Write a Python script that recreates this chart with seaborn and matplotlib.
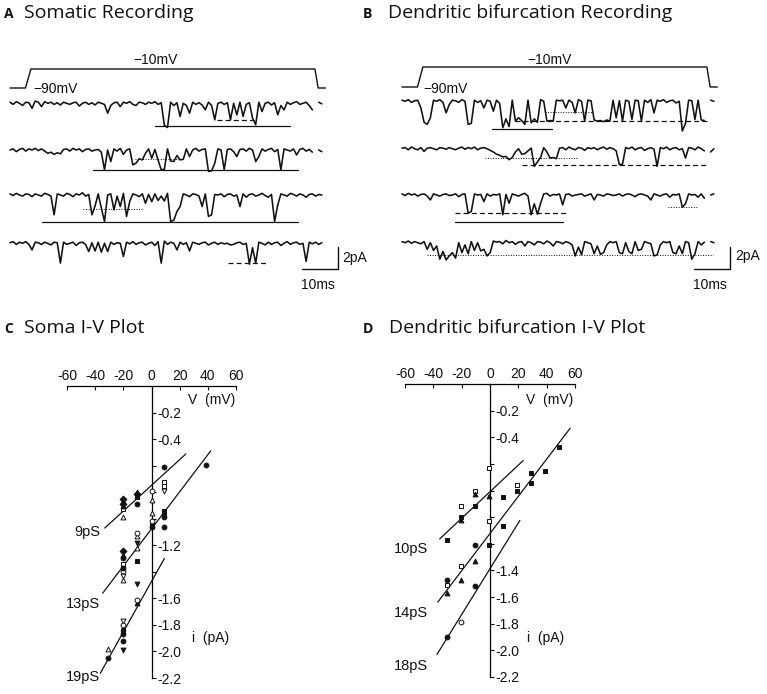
import numpy as np
import pandas as pd
import matplotlib
matplotlib.use("Agg")
import matplotlib.pyplot as plt
import seaborn as sns

W, H = 767, 694
nan = np.nan

# ---------------- single-channel current traces (pA, one sample every 0.875 ms) ----------------
dt_ms = 0.875

soma_trace_1 = [0.1, -0.1, 0.15, 0.0, -0.2, 0.1, 0.05, -0.45, 0.2, 0.1,
                -0.3, 0.15, 0.0, 0.1, -0.1, 0.05, -0.15, 0.1, 0.0, -0.1,
                0.05, 0.1, -0.25, 0.0, 0.1, -0.1, 0.05, -0.15, 0.1, 0.0,
                -0.1, -0.9, -0.2, 0.05, 0.1, -0.3, 0.1, 0.0, 0.15, -0.1,
                -0.2, 0.1, 0.05, -0.1, 0.1, 0.0, 0.15, -0.1, 0.05, -2.0,
                -2.2, 0.1, -0.2, 0.05, -1.2, 0.0, -0.2, -0.9, 0.1, -0.1,
                0.05, -0.15, -0.6, 0.1, -0.2, -1.5, 0.0, 0.1, -0.1, 0.05,
                -1.5, 0.0, -1.05, 0.1, -1.2, -0.1, 0.05, -1.35, -1.95, 0.1,
                -0.75, 0.0, 0.1, -0.15, 0.05, -1.05, -0.2, -0.6, 0.1, -0.1,
                0.05, 0.15, -0.1, 0.0, 0.1, -0.2, -0.6, nan, 0.1, -0.05]
soma_trace_2 = [0.0, 0.1, -0.15, 0.05, 0.15, -0.1, 0.1, 0.0, 0.15, -0.05,
                0.1, -0.1, -0.3, -0.2, -0.4, -0.25, -0.35, 0.05, 0.1, -0.1,
                0.15, 0.0, 0.1, -0.15, 0.05, 0.1, -0.1, 0.0, 0.05, -0.2,
                -1.8, 0.0, -1.05, 0.1, -0.1, 0.15, -0.4, 0.0, 0.1, -1.35,
                -1.2, -0.8, -0.9, -0.3, 0.1, -0.75, 0.05, -0.9, -1.8, -1.75,
                0.1, -1.0, -1.05, -0.5, -0.9, -0.85, 0.1, -0.6, 0.0, 0.15,
                -0.1, 0.05, 0.1, -1.95, -1.9, -1.2, 0.1, 0.0, -1.8, 0.05,
                0.1, -0.15, -0.6, 0.05, 0.1, -0.1, 0.15, 0.0, -1.05, -0.6,
                0.1, -0.1, 0.05, 0.15, -0.15, 0.05, -1.8, 0.1, 0.0, -0.1,
                0.1, -0.45, 0.05, 0.15, -0.1, 0.05, -0.2, nan, 0.0, -0.15]
soma_trace_3 = [0.1, -0.05, 0.15, 0.0, -0.1, 0.1, 0.05, -0.15, 0.1, 0.0,
                -0.1, 0.15, 0.05, -0.1, -1.8, 0.1, 0.0, -0.1, 0.15, 0.05,
                -0.15, 0.1, 0.0, 0.2, -0.1, 0.05, -1.8, -1.0, 0.1, -1.2,
                -2.4, 0.0, 0.1, -1.35, -0.1, -1.05, 0.15, -1.95, -0.6, 0.1,
                0.0, -0.15, 0.1, -0.75, 0.05, -0.6, 0.1, -0.5, -0.1, -0.55,
                0.15, -2.4, -2.3, -1.5, -1.05, 0.1, 0.0, -0.15, 0.1, 0.05,
                -0.1, -1.05, 0.1, -1.95, -1.8, 0.05, 0.0, 0.1, -0.15, 0.05,
                0.1, -0.1, 0.0, -1.05, 0.1, -0.2, 0.05, 0.1, -0.1, 0.0,
                0.15, -0.05, -0.2, 0.05, -2.4, -0.9, 0.1, 0.0, -0.1, 0.15,
                0.05, -0.1, 0.1, 0.0, -0.2, 0.05, 0.1, -0.1, 0.05, 0.0]
soma_trace_4 = [0.05, 0.15, -0.1, 0.1, 0.0, 0.15, -0.1, -0.6, 0.1, 0.05,
                -0.1, 0.1, 0.0, -0.15, 0.1, 0.05, -1.8, 0.1, -0.1, 0.0,
                0.1, -0.2, 0.05, 0.1, -0.1, -0.75, 0.05, -0.7, 0.1, -0.8,
                0.0, -0.75, 0.1, -0.1, 0.05, 0.0, -1.2, 0.1, -0.05, 0.15,
                -0.1, 0.05, 0.1, -0.15, 0.0, 0.1, -0.2, 0.15, -1.8, 0.2,
                -0.1, 0.1, 0.0, -0.6, 0.1, -0.1, 0.05, -0.7, 0.1, 0.0,
                -0.1, 0.05, 0.1, -0.15, 0.0, 0.1, -0.1, 0.05, -0.05, 0.0,
                -0.15, -0.1, 0.05, 0.1, -0.1, 0.0, -1.9, -0.4, -1.8, 0.1,
                0.0, -0.15, 0.1, -0.1, 0.05, 0.1, -0.2, 0.0, 0.15, -0.1,
                0.05, 0.1, -0.1, 0.0, -1.65, 0.1, -0.05, 0.1, -0.1, 0.05]

dend_trace_1 = [0.1, 0.0, 0.15, -0.1, 0.05, 0.1, -0.6, -1.9, -2.1, -1.5,
                0.1, 0.0, 0.15, -0.1, -1.05, -0.3, 0.1, 0.05, -0.1, 0.15,
                0.0, -2.1, -2.0, 0.1, -0.1, 0.05, -0.6, 0.1, 0.0, -0.9,
                0.1, -0.2, -2.4, -1.6, -2.3, 0.1, -1.8, -1.5, -1.75, -2.1,
                0.1, -1.95, -1.6, -1.9, 0.15, 0.0, -1.8, -1.75, -1.8, 0.1,
                0.05, 0.1, -0.6, 0.1, -0.1, -1.05, 0.15, 0.0, -1.8, 0.1,
                0.05, -1.7, -1.8, -1.75, -1.85, -1.7, -1.8, 0.1, -1.5, 0.05,
                -1.8, 0.1, 0.0, -1.65, 0.1, 0.05, -1.8, 0.1, -0.1, 0.15,
                -1.05, 0.1, 0.0, 0.15, -0.1, 0.05, 0.1, -0.15, 0.0, -2.7,
                -2.0, 0.1, 0.05, -1.65, 0.1, -1.7, -1.75, nan, 0.1, 0.0]
dend_trace_2 = [0.05, 0.1, -0.1, 0.15, 0.0, -0.1, 0.1, -0.25, 0.05, 0.1,
                0.0, -0.1, 0.1, 0.05, -0.05, 0.1, 0.0, -0.1, 0.05, 0.15,
                -0.05, 0.1, 0.0, 0.15, -0.1, 0.05, 0.1, 0.0, -0.15, -0.3,
                -0.5, -0.6, -0.75, -0.7, -1.0, -0.8, -0.3, 0.0, -0.5, -0.45,
                -0.2, 0.05, -1.6, -1.2, -0.8, 0.1, -0.3, -0.85, -0.8, -0.9,
                0.05, 0.1, -0.1, 0.15, 0.0, -0.1, 0.1, 0.05, -0.15, 0.1,
                0.0, 0.1, -0.1, 0.05, 0.15, -0.05, 0.1, 0.0, -0.2, -1.45,
                -1.4, 0.1, 0.0, 0.15, -0.1, 0.05, 0.1, -0.15, 0.0, 0.1,
                -0.05, -1.6, 0.1, 0.0, 0.15, -0.1, 0.05, 0.1, -0.1, 0.0,
                -0.85, 0.1, 0.05, -0.1, 0.15, 0.0, -0.2, nan, -0.3, 0.0]
dend_trace_3 = [0.1, -0.05, 0.15, 0.0, 0.1, -0.1, 0.05, 0.1, -0.1, -0.45,
                0.1, 0.0, -0.1, 0.05, 0.1, -0.05, 0.0, 0.1, -0.15, 0.05,
                0.1, -1.65, -1.5, 0.1, 0.0, 0.05, -0.6, 0.1, -0.1, 0.05,
                0.0, 0.1, -1.8, 0.05, -0.75, 0.1, 0.0, -0.1, 0.05, 0.15,
                -0.1, -1.8, -0.8, -1.75, -0.75, 0.1, 0.15, -0.1, 0.05, 0.0,
                0.1, -0.9, 0.05, 0.1, -0.1, 0.0, 0.05, 0.1, -0.1, 0.0,
                0.1, -0.45, 0.05, 0.0, -0.1, 0.1, 0.05, -0.05, 0.0, 0.1,
                -0.1, 0.05, 0.1, 0.0, -0.15, 0.05, 0.1, 0.0, -0.1, -0.45,
                0.1, 0.0, -0.1, 0.05, 0.1, -0.2, 0.05, 0.0, 0.1, -1.1,
                -0.8, 0.1, 0.0, 0.05, -0.2, 0.1, -0.3, nan, 0.0, 0.1]
dend_trace_4 = [0.1, 0.0, 0.15, -0.05, 0.1, 0.0, -0.1, 0.1, -0.6, 0.0,
                -0.7, -0.3, -1.5, -0.8, -1.56, -1.2, -0.9, -1.4, 0.0, -0.9,
                -0.2, -1.0, 0.1, -0.7, 0.0, -0.75, -0.6, -1.2, -0.9, 0.15,
                0.05, 0.1, -0.1, 0.2, 0.0, 0.1, -0.15, 0.05, 0.1, -0.3,
                0.1, 0.0, -0.2, 0.1, 0.05, -0.1, 0.15, 0.0, -0.3, 0.1,
                0.05, -0.1, 0.1, 0.0, -0.2, -1.2, -0.4, -1.1, 0.1, 0.0,
                -0.1, -1.0, -0.3, -1.05, -0.9, -0.2, 0.1, 0.0, 0.1, -0.9,
                -1.0, 0.0, -0.8, -1.0, 0.1, -0.7, -0.6, 0.1, 0.0, -0.1,
                -1.2, -1.1, -0.2, 0.1, 0.0, 0.1, -0.9, -1.0, -0.3, -1.0,
                0.1, 0.0, -1.5, -1.0, 0.1, -0.2, 0.05, nan, 0.1, 0.0]

# command step (ms, mV)
step_t = [0.0, 4.3, 5.8, 84.7, 85.6, 87.6]
step_v = [-90, -90, -10, -10, -90, -90]

# current levels drawn under the traces: (trace row, start ms, end ms, level pA)
soma_solid_levels = [(0, 40.3, 77.8, -2.05), (1, 23.0, 80.0, -1.82), (2, 8.9, 80.0, -2.42)]
soma_dashed_levels = [(0, 57.5, 68.0, -1.52), (3, 60.6, 71.7, -1.82)]
soma_dotted_levels = [(1, 34.7, 47.8, -0.82), (2, 20.3, 36.7, -1.27)]
dend_solid_levels = [(0, 25.0, 41.7, -2.49), (2, 14.7, 44.7, -2.42)]
dend_dashed_levels = [(0, 31.4, 85.0, -1.76), (1, 33.3, 84.7, -1.45), (2, 14.7, 45.8, -1.67)]
dend_dotted_levels = [(0, 39.7, 52.8, -0.97), (1, 23.0, 48.6, -0.85),
                      (2, 73.9, 82.2, -1.12), (3, 6.9, 86.4, -1.12)]

# ---------------- I-V data (mV, pA) ----------------
soma_v = [-20.5, -20.5, -20.5, -20.5, -20.5, -20.5, -20.5, -20.5, -20.5, -20.5, -20.5,
          -20.5, -20.5, -20.5, -20.5, -20.5, -20.5, -20.5, -20.5, -20.5, -20.5,
          -31, -31,
          -10.5, -10.5, -10.5, -10.5, -10.5, -10.5, -10.5, -10.5, -10.5, -10.5, -10.5, -10.5, -10.5,
          0, 0, 0, 0, 0, 0,
          9, 9, 9, 9, 9, 9, 9, 9,
          39]
soma_i = [-0.85, -0.87, -0.89, -0.905, -0.925, -0.985, -1.245, -1.27, -1.295, -1.34, -1.37,
          -1.395, -1.43, -1.46, -1.77, -1.80, -1.82, -1.847, -1.87, -1.92, -1.99,
          -1.98, -2.05,
          -0.795, -0.81, -0.825, -0.84, -0.89, -1.105, -1.13, -1.185, -1.22, -1.32, -1.495, -1.61, -1.635,
          -0.79, -0.86, -0.955, -1.02, -1.05, -1.065,
          -0.61, -0.725, -0.755, -0.79, -0.945, -0.97, -0.985, -1.065,
          -0.595]
soma_symbol = ["◆", "▲", "◆", "▲", "□", "△", "◆", "▲", "●", "□", "●",
               "○", "▽", "△", "▽", "○", "▲", "■", "●", "●", "▼",
               "△", "●",
               "▲", "◆", "▲", "□", "●", "○", "△", "▼", "△", "■", "▼", "○", "▲",
               "○", "△", "△", "○", "■", "●",
               "●", "□", "□", "▽", "■", "■", "●", "●",
               "●"]

dend_v = [-1, -10.5, -10.5, -20.5, -20.5, -20.5, -10.5, -1, 9, 19, 19, 29, 29, 39, 49,
          -30.5, -1, 9, -10.5, -1, -20.5, -10.5, -30.5, -30.5, -20.5, -30.5, -10.5,
          -20.5, -30.5]
dend_i = [-0.633, -0.807, -0.827, -0.919, -0.999, -1.024, -0.919, -0.844, -0.849, -0.762,
          -0.802, -0.671, -0.746, -0.656, -0.476,
          -1.169, -1.031, -1.064, -1.208, -1.206, -1.369, -1.331, -1.473, -1.51, -1.468,
          -1.568, -1.518, -1.788, -1.898]
dend_symbol = ["□", "□", "▲", "□", "■", "▲", "■", "▲", "■", "□", "■", "■", "■", "■", "■",
               "■", "□", "■", "●", "■", "□", "▲", "●", "□", "▲", "▲", "●", "○", "●"]

# fitted conductance lines (end points)
soma_fit_labels = ["9pS", "13pS", "19pS"]
soma_fit_v = [[-33.2, 24.4], [-34.6, 42.1], [-36.4, 9.2]]
soma_fit_i = [[-1.07, -0.512], [-1.56, -0.488], [-2.165, -1.298]]
dend_fit_labels = ["10pS", "14pS", "18pS"]
dend_fit_v = [[-35.5, 23.4], [-36.9, 56.6], [-37.4, 21.1]]
dend_fit_i = [[-1.163, -0.575], [-1.638, -0.332], [-2.03, -1.024]]

v_ticks = [-60, -40, -20, 0, 20, 40, 60]
i_ticks = [-0.2, -0.4, -0.6, -0.8, -1.0, -1.2, -1.4, -1.6, -1.8, -2.0, -2.2]
soma_i_labelled = [-0.2, -0.4, -1.2, -1.6, -1.8, -2.0, -2.2]
dend_i_labelled = [-0.2, -0.4, -1.4, -1.6, -1.8, -2.0, -2.2]

# ---------------- style ----------------
sns.set_theme(style="white")
plt.rcParams["font.family"] = ["Liberation Sans", "DejaVu Sans"]
plt.rcParams["axes.edgecolor"] = "black"
plt.rcParams["axes.linewidth"] = 0.9
INK = "#111111"

MARKERS = {"●": ("o", True), "○": ("o", False), "▲": ("^", True), "△": ("^", False),
           "▼": ("v", True), "▽": ("v", False), "■": ("s", True), "□": ("s", False),
           "◆": ("D", True)}

fig = plt.figure(figsize=(W / 100, H / 100), dpi=100)


def px_axes(x0, y0, x1, y1):
    """axes from pixel box (top-left origin)"""
    ax = fig.add_axes([x0 / W, 1 - y1 / H, (x1 - x0) / W, (y1 - y0) / H])
    ax.patch.set_alpha(0)
    return ax


def ftext(x, y, s, **kw):
    kw.setdefault("color", INK)
    fig.text(x / W, 1 - y / H, s, **kw)


def title(x_letter, x_text, y, letter, text):
    ftext(x_letter, y, letter, fontsize=10, fontweight="bold", family="Open Sans", va="baseline")
    ftext(x_text, y, text, fontsize=14, family="Open Sans", va="baseline")


# trace geometry: 3.6 px per ms, 11 px per pA
PX_MS, PX_PA = 3.6, 11.0


def trace_panel(box, t0_px, base_px, row_px, traces, solid, dashed, dotted, step_px):
    x0, y0, x1, y1 = box
    ax = px_axes(*box)
    ax.set_xlim((x0 - t0_px) / PX_MS, (x1 - t0_px) / PX_MS)
    ax.set_ylim(-(y1 - base_px) / PX_PA, -(y0 - base_px) / PX_PA)
    ax.axis("off")
    offsets = [-(r - base_px) / PX_PA for r in row_px]
    for k, tr in enumerate(traces):
        t = np.arange(len(tr)) * dt_ms
        ax.plot(t, np.array(tr) + offsets[k], color=INK, lw=1.15)
    for levels, ls, lw in [(solid, "-", 0.9), (dashed, (0, (4, 2.5)), 0.9), (dotted, (0, (1, 1.6)), 0.7)]:
        for row, ta, tb, lev in levels:
            ax.plot([ta, tb], [lev + offsets[row]] * 2, color=INK, lw=lw, ls=ls)
    # command voltage step
    lo, hi = [-(p - base_px) / PX_PA for p in step_px]
    sv = lo + (np.array(step_v) + 90) / 80 * (hi - lo)
    ax.plot(step_t, sv, color=INK, lw=1.0)
    # scale bar 10 ms / 2 pA
    bar_t, bar_y = 91.0, -(269 - base_px) / PX_PA
    ax.plot([bar_t - 10, bar_t, bar_t], [bar_y, bar_y, bar_y + 2], color=INK, lw=1.0)
    return ax


trace_panel((0, 40, 385, 300), 10, 103.3, [103.3, 150, 195, 243.3],
            [soma_trace_1, soma_trace_2, soma_trace_3, soma_trace_4],
            soma_solid_levels, soma_dashed_levels, soma_dotted_levels, (88, 69))
trace_panel((385, 40, 767, 300), 402, 101.3, [101.3, 148.7, 195, 242.7],
            [dend_trace_1, dend_trace_2, dend_trace_3, dend_trace_4],
            dend_solid_levels, dend_dashed_levels, dend_dotted_levels, (87, 67))

title(4, 24, 18, "A", "Somatic Recording")
title(363, 388, 18, "B", "Dendritic bifurcation Recording")
title(4, 24, 333, "C", "Soma I-V Plot")
title(363, 389, 333, "D", "Dendritic bifurcation I-V Plot")

ftext(156, 60, "−10mV", fontsize=10, ha="center", va="center")
ftext(550, 60, "−10mV", fontsize=10, ha="center", va="center")
ftext(33, 89, "−90mV", fontsize=10, ha="left", va="center")
ftext(423, 89, "−90mV", fontsize=10, ha="left", va="center")
ftext(342, 258, "2pA", fontsize=10, ha="left", va="center")
ftext(735, 256, "2pA", fontsize=10, ha="left", va="center")
ftext(318, 285, "10ms", fontsize=10, ha="center", va="center")
ftext(710, 285, "10ms", fontsize=10, ha="center", va="center")


def iv_panel(box, v, i, sym, fit_v, fit_i, fit_labels, labelled, label_right_px, label_rows_px,
             vlabel_px, ilabel_px):
    ax = px_axes(*box)
    ax.set_xlim(-60, 60)
    ax.set_ylim(-2.2, 0)
    ax.spines["bottom"].set_visible(False)
    ax.spines["left"].set_visible(False)
    ax.spines["right"].set_position(("data", 0))
    ax.xaxis.tick_top()
    ax.yaxis.tick_right()
    ax.set_xticks(v_ticks)
    ax.set_xticklabels([str(t) for t in v_ticks])
    ax.set_yticks(i_ticks)
    ax.set_yticklabels([f"{t:.1f}" if any(abs(t - l) < 1e-9 for l in labelled) else "" for t in i_ticks])
    ax.tick_params(axis="x", direction="in", length=3, width=0.8, pad=2, labelsize=10, colors=INK)
    ax.tick_params(axis="y", direction="out", length=3, width=0.8, pad=1, labelsize=10, colors=INK)
    ax.grid(False)

    df = pd.DataFrame({"V": v, "I": i, "symbol": sym})
    for s, grp in df.groupby("symbol"):
        mk, filled = MARKERS[s]
        sns.scatterplot(data=grp, x="V", y="I", marker=mk, s=12,
                        color=INK if filled else "white", edgecolor=INK, linewidth=0.7,
                        ax=ax, clip_on=False, zorder=3)
    for fv, fi in zip(fit_v, fit_i):
        sns.lineplot(x=fv, y=fi, color=INK, lw=0.9, ax=ax, estimator=None, sort=False)
    ax.set_xlabel("")
    ax.set_ylabel("")
    for lab, ry in zip(fit_labels, label_rows_px):
        ftext(label_right_px, ry, lab, fontsize=10.5, ha="right", va="center")
    ftext(vlabel_px[0], vlabel_px[1], "V  (mV)", fontsize=10, ha="center", va="center")
    ftext(ilabel_px[0], ilabel_px[1], "i  (pA)", fontsize=10, ha="center", va="center")
    return ax


iv_panel((67, 386, 236, 678), soma_v, soma_i, soma_symbol, soma_fit_v, soma_fit_i,
         soma_fit_labels, soma_i_labelled, 100, [532, 604, 677], (212, 400), (211, 638))
iv_panel((405, 384, 575, 677), dend_v, dend_i, dend_symbol, dend_fit_v, dend_fit_i,
         dend_fit_labels, dend_i_labelled, 428, [549, 613, 666], (550, 400), (546, 638))

fig.savefig("out.png", dpi=100, facecolor="white")
